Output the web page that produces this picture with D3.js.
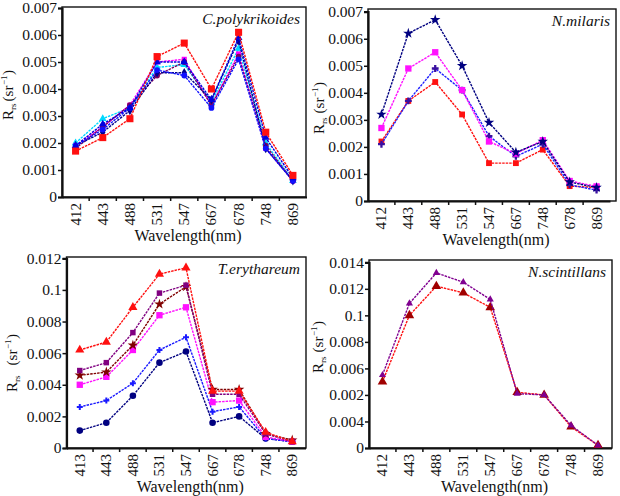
<!DOCTYPE html>
<html>
<head>
<meta charset="utf-8">
<script src="https://cdn.jsdelivr.net/npm/d3@7"></script>
<style>
  body { margin: 0; background: #fff; }
  text { font-family: "Liberation Serif", "Times New Roman", "DejaVu Serif", serif; }
</style>
</head>
<body>
<svg id="chart" width="620" height="496"></svg>
<script>
// ---- data ----
const cpolyBands = ["412", "443", "488", "531", "547", "667", "678", "748", "869"];
const cpolyRed     = [0.0017, 0.0022, 0.0029, 0.0052, 0.0057, 0.0040, 0.0061, 0.0024, 0.0008];
const cpolyBlueA   = [0.0019, 0.0027, 0.0033, 0.0050, 0.0050, 0.0036, 0.0059, 0.0022, 0.0007];
const cpolyBlueB   = [0.0019, 0.0025, 0.0033, 0.0047, 0.0045, 0.0033, 0.0051, 0.0018, 0.0006];
const cpolyPurple  = [0.0018, 0.0026, 0.0034, 0.0045, 0.0050, 0.0034, 0.0052, 0.0019, 0.0006];
const cpolyCyan    = [0.0020, 0.0029, 0.0033, 0.0048, 0.0049, 0.0035, 0.0055, 0.0020, 0.0006];
const cpolyMagenta = [0.0019, 0.0026, 0.0034, 0.0050, 0.0051, 0.0034, 0.0053, 0.0018, 0.0006];
const cpolyNavy    = [0.0019, 0.0024, 0.0032, 0.0046, 0.0046, 0.0036, 0.0058, 0.0018, 0.0006];
const cpolyTicks = ["0", "0.001", "0.002", "0.003", "0.004", "0.005", "0.006", "0.007"];

const nmilBands = ["412", "443", "488", "531", "547", "667", "748", "678", "869"];
const nmilNavy    = [0.0032, 0.0062, 0.0067, 0.0050, 0.0029, 0.0018, 0.0022, 0.0007, 0.0005];
const nmilMagenta = [0.0027, 0.0049, 0.0055, 0.0041, 0.0022, 0.00175, 0.00225, 0.00074, 0.00054];
const nmilBlue    = [0.0021, 0.0037, 0.0049, 0.0041, 0.0024, 0.00165, 0.0021, 0.0006, 0.0004];
const nmilRed     = [0.0022, 0.0037, 0.0044, 0.0032, 0.0014, 0.0014, 0.0019, 0.00055, 0.0005];
const nmilTicks = ["0", "0.001", "0.002", "0.003", "0.004", "0.005", "0.006", "0.007"];

const teryBands = ["413", "443", "488", "531", "547", "667", "678", "748", "869"];
const teryRed     = [0.0062, 0.0067, 0.0089, 0.0110, 0.0114, 0.0036, 0.0036, 0.0010, 0.0004];
const teryPurple  = [0.0049, 0.0054, 0.0073, 0.0098, 0.0103, 0.0034, 0.0034, 0.0009, 0.0004];
const teryMaroon  = [0.0046, 0.0048, 0.0065, 0.0091, 0.0102, 0.0037, 0.0037, 0.0009, 0.0005];
const teryMagenta = [0.0040, 0.0045, 0.0062, 0.0084, 0.0089, 0.0029, 0.0030, 0.0007, 0.0004];
const teryBlue    = [0.0026, 0.0030, 0.0041, 0.0062, 0.0070, 0.0023, 0.0026, 0.0006, 0.0004];
const teryNavy    = [0.0011, 0.0016, 0.0033, 0.0054, 0.0061, 0.0016, 0.0020, 0.0006, 0.0004];
const teryTicks = ["0", "0.002", "0.004", "0.006", "0.008", "0.1", "0.012"];

const nsciBands = ["412", "443", "488", "531", "547", "667", "678", "748", "869"];
const nsciPurple = [0.0055, 0.0109, 0.0132, 0.0125, 0.0112, 0.0041, 0.0040, 0.0017, 0.0002];
const nsciRed    = [0.0050, 0.0100, 0.0122, 0.0117, 0.0106, 0.0042, 0.0040, 0.0016, 0.0002];
const nsciTicks = ["0", "0.004", "0.002", "0.006", "0.008", "0.1", "0.012", "0.014"];

// ---- layout ----
const svg = d3.select("#chart");
const serif = "'Liberation Serif', 'Times New Roman', 'DejaVu Serif', serif";

// y label built piece by piece, each piece its own text
function yLabel(g, cfg) {
    const pieces = [
        { t: "R", size: 15, shift: 0, gap: 0 },
        { t: "rs", size: 9, shift: 3, gap: 0 },
        { t: "(sr", size: 15, shift: 0, gap: cfg.yLabelGap },
        { t: "−1", size: 9, shift: -6, gap: 0.5 },
        { t: ")", size: 15, shift: 0, gap: 0.5 }
    ];
    const lg = g.append("g");
    let cursor = 0;
    pieces.forEach(p => {
        cursor += p.gap;
        const t = lg.append("text")
            .attr("x", cursor)
            .attr("y", p.shift)
            .attr("font-size", p.size)
            .attr("fill", "#111")
            .text(p.t);
        cursor += t.node().getComputedTextLength();
    });
    lg.attr("transform", "translate(" + cfg.yLabelX + "," + (cfg.yLabelY + cursor / 2) + ") rotate(-90)");
}

function drawPanel(cfg) {
    const g = svg.append("g");

    const x = d3.scaleBand()
        .domain(cfg.bands)
        .range([cfg.left, cfg.bandRight]);
    const y = d3.scaleLinear()
        .domain([0, cfg.yMax])
        .range([cfg.bottom, cfg.yTop]);

    // frame (top + right thinner)
    g.append("rect")
        .attr("x", cfg.left).attr("y", cfg.top)
        .attr("width", cfg.right - cfg.left).attr("height", cfg.bottom - cfg.top)
        .attr("fill", "none").attr("stroke", "#111").attr("stroke-width", 1.4);

    // y axis
    const tickVals = cfg.ticks.map((t, i) => i * cfg.yMax / (cfg.ticks.length - 1));
    const yAxis = d3.axisLeft(y)
        .tickValues(tickVals)
        .tickSize(4)
        .tickPadding(1)
        .tickFormat((d, i) => cfg.ticks[i]);
    const ya = g.append("g")
        .attr("transform", "translate(" + cfg.left + ",0)")
        .call(yAxis);
    ya.attr("font-family", serif);
    ya.select(".domain").attr("stroke-width", 2.2).attr("stroke", "#111");
    ya.selectAll(".tick line").attr("stroke-width", 1.5).attr("stroke", "#111");
    ya.selectAll("text")
        .attr("font-size", 15.5)
        .attr("fill", "#111");

    // x axis: labels at band centres, ticks on band edges
    const xAxis = d3.axisBottom(x).tickSize(0).tickPadding(0);
    const xa = g.append("g")
        .attr("transform", "translate(0," + cfg.bottom + ")")
        .call(xAxis);
    xa.attr("font-family", serif);
    xa.select(".domain").attr("stroke-width", 2.2).attr("stroke", "#111");
    xa.selectAll("text")
        .attr("font-size", 15)
        .attr("fill", "#111")
        .attr("text-anchor", "end")
        .attr("transform", "translate(5,6) rotate(-90)")
        .attr("x", 0).attr("y", 0).attr("dy", 0);
    g.selectAll(".xedge")
        .data(cfg.bands.slice(1))
        .join("line")
        .attr("x1", d => x(d)).attr("x2", d => x(d))
        .attr("y1", cfg.bottom).attr("y2", cfg.bottom + 4)
        .attr("stroke", "#111").attr("stroke-width", 1.5);

    // axis titles
    g.append("text")
        .attr("x", (cfg.left + cfg.right) / 2 + 4)
        .attr("y", cfg.bottom + 44)
        .attr("text-anchor", "middle")
        .attr("font-size", 16)
        .attr("fill", "#111")
        .text("Wavelength(nm)");

    yLabel(g, cfg);

    // panel title
    g.append("text")
        .attr("x", cfg.right - 6)
        .attr("y", cfg.top + 17)
        .attr("text-anchor", "end")
        .attr("font-size", 15.5)
        .attr("font-style", "italic")
        .attr("fill", "#111")
        .text(cfg.title);

    // series
    const line = d3.line()
        .x((d, i) => x(cfg.bands[i]) + x.bandwidth() / 2)
        .y(d => y(d));

    cfg.series.forEach(s => {
        g.append("path")
            .attr("d", line(s.values))
            .attr("fill", "none")
            .attr("stroke", s.color)
            .attr("stroke-width", 1.4)
            .attr("stroke-dasharray", "2.5,1");
        const sym = d3.symbol().type(s.symbol).size(s.size || 26);
        g.selectAll(null)
            .data(s.values)
            .join("path")
            .attr("transform", (d, i) => "translate(" + (x(cfg.bands[i]) + x.bandwidth() / 2) + "," + y(d) + ")")
            .attr("d", sym())
            .attr("fill", s.markColor || s.color);
    });
}

drawPanel({
    title: "C.polykrikoides", bands: cpolyBands, ticks: cpolyTicks, yMax: 0.007,
    left: 62, right: 306, bandRight: 306.5, top: 7, bottom: 197, yTop: 8,
    yLabelX: 12.5, yLabelY: 95, yLabelGap: 2,
    series: [
        { values: cpolyCyan, color: "#00d8ff", symbol: d3.symbolTriangle },
        { values: cpolyMagenta, color: "#ff00ff", symbol: d3.symbolSquare },
        { values: cpolyPurple, color: "#800060", symbol: d3.symbolCircle },
        { values: cpolyNavy, color: "#000090", symbol: d3.symbolDiamond },
        { values: cpolyBlueB, color: "#1010ff", symbol: d3.symbolCircle },
        { values: cpolyBlueA, color: "#0000e0", symbol: d3.symbolTriangle },
        { values: cpolyRed, color: "#ff1010", symbol: d3.symbolSquare, size: 50 }
    ]
});

drawPanel({
    title: "N.milaris", bands: nmilBands, ticks: nmilTicks, yMax: 0.007,
    left: 368, right: 616, bandRight: 610, top: 9, bottom: 201, yTop: 11.7,
    yLabelX: 323.5, yLabelY: 108, yLabelGap: 4,
    series: [
        { values: nmilRed, color: "#ff1010", symbol: d3.symbolSquare, size: 34 },
        { values: nmilBlue, color: "#2020ff", symbol: d3.symbolCross, markColor: "#3a10a0" },
        { values: nmilMagenta, color: "#ff10ff", symbol: d3.symbolSquare, size: 40 },
        { values: nmilNavy, color: "#000080", symbol: d3.symbolStar, size: 34 }
    ]
});

drawPanel({
    title: "T.erythareum", bands: teryBands, ticks: teryTicks, yMax: 0.012,
    left: 66.5, right: 306, bandRight: 305.5, top: 257, bottom: 448, yTop: 258.3,
    yLabelX: 17, yLabelY: 363, yLabelGap: 10,
    series: [
        { values: teryNavy, color: "#000080", symbol: d3.symbolCircle, size: 34 },
        { values: teryBlue, color: "#1a1aff", symbol: d3.symbolCross, size: 20 },
        { values: teryMagenta, color: "#ff10ff", symbol: d3.symbolSquare, size: 40 },
        { values: teryMaroon, color: "#800000", symbol: d3.symbolStar, size: 34 },
        { values: teryPurple, color: "#800080", symbol: d3.symbolSquare, size: 30 },
        { values: teryRed, color: "#ff1010", symbol: d3.symbolTriangle, size: 36 }
    ]
});

drawPanel({
    title: "N.scintillans", bands: nsciBands, ticks: nsciTicks, yMax: 0.014,
    left: 369, right: 612, bandRight: 611.5, top: 260, bottom: 448, yTop: 262.3,
    yLabelX: 323, yLabelY: 347, yLabelGap: 4,
    series: [
        { values: nsciRed, color: "#ff1010", symbol: d3.symbolTriangle, size: 40, markColor: "#a00000" },
        { values: nsciPurple, color: "#800090", symbol: d3.symbolTriangle, size: 22 }
    ]
});
</script>
</body>
</html>
